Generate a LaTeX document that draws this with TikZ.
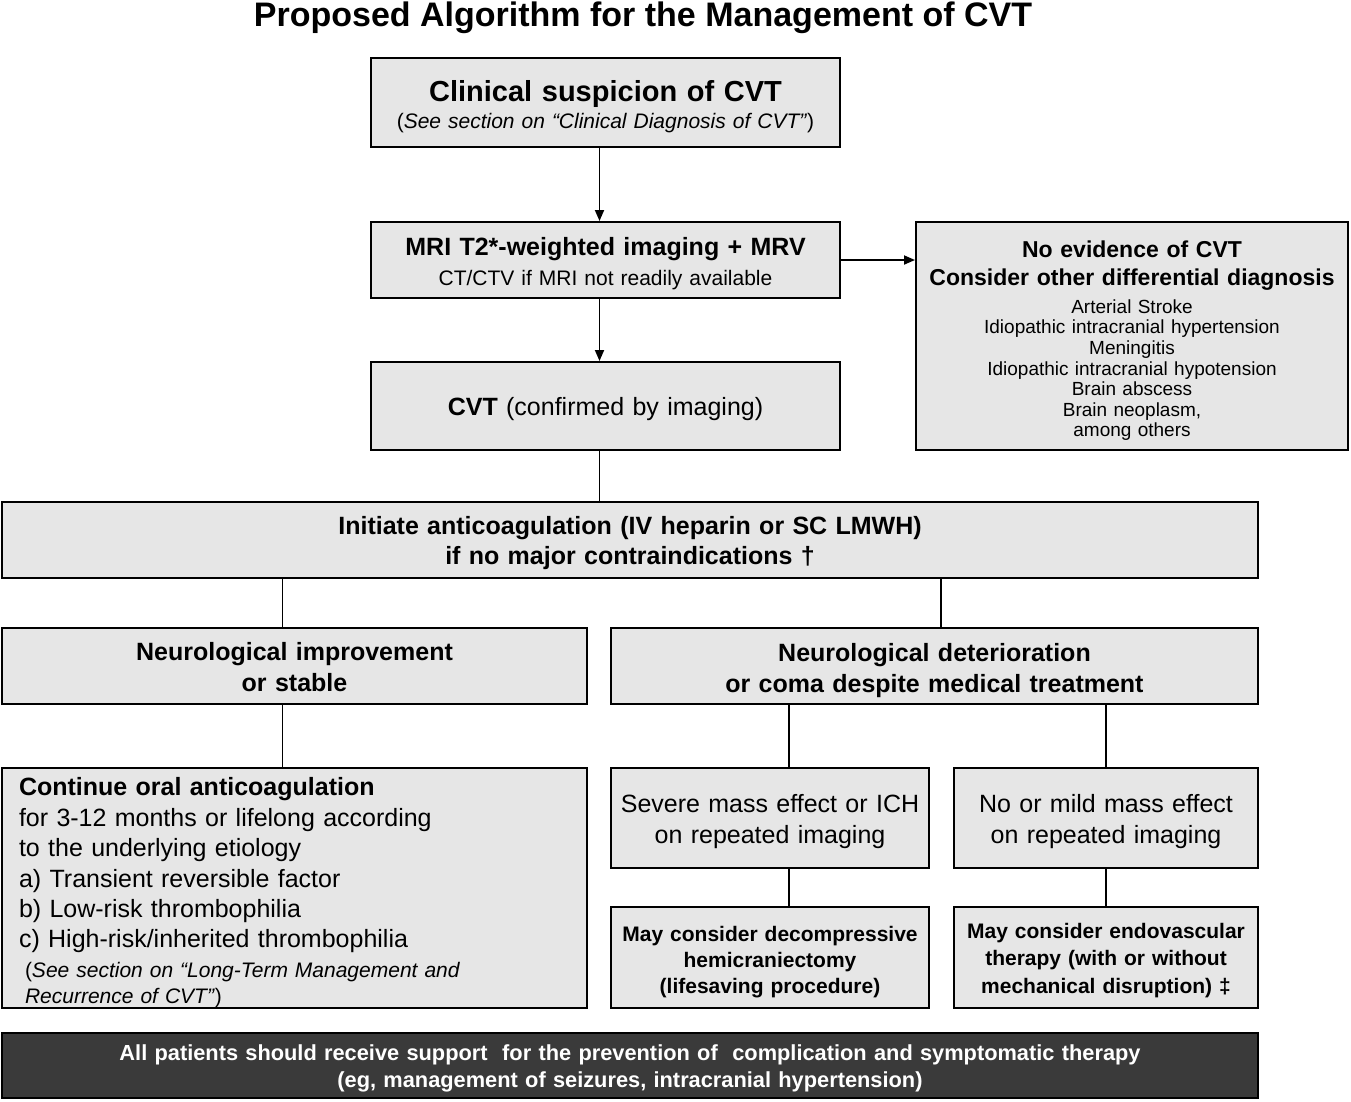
\documentclass[tikz,border=0pt]{standalone}
\usepackage{fontspec}
\setmainfont{Liberation Sans}
\usetikzlibrary{arrows.meta}
\definecolor{boxgray}{HTML}{E6E6E6}
\definecolor{footgray}{HTML}{3A3A3A}
% size + word space in the new size
\newcommand{\fsz}[2]{\fontsize{#1}{#2}\selectfont\spaceskip=.3333em\xspaceskip=.5em\relax}
% extra room above the first line (moves the text down by half of it)
\newcommand{\padtop}[1]{\raisebox{#1}{\vphantom{(}}}

\begin{document}
\begin{tikzpicture}[x=1pt,y=-1pt,
  box/.style={draw=black,line width=2pt,fill=boxgray,inner sep=0pt,align=center},
  link/.style={line width=1.8pt},
  arr/.style={line width=1.8pt,-{Triangle[length=11pt,width=9pt]}}]
\useasboundingbox (0,0) rectangle (1351,1101);
\node[font=\bfseries\fontsize{34}{40}\selectfont] (title) at (643,18) {Proposed Algorithm for the Management of CVT};
% diagnosis column
\node[box,minimum width=469,minimum height=89,text width=460] (clin) at (605.5,102.5)
  {{\bfseries\fsz{29}{30}\padtop{9pt}Clinical suspicion of CVT\par}
   {\fsz{21}{27}(\textit{See section on “Clinical Diagnosis of CVT”})\par}};
\node[box,minimum width=469,minimum height=76,text width=460] (mri) at (605.5,260)
  {{\bfseries\fsz{25}{31}\padtop{7pt}MRI T2*-weighted imaging + MRV\par}
   {\fsz{21}{30}CT/CTV if MRI not readily available\par}};
\node[box,minimum width=469,minimum height=88,text width=460,font=\fsz{25}{31}] (cvt) at (605.5,406)
  {\padtop{6pt}\textbf{CVT} (confirmed by imaging)};
\node[box,minimum width=432,minimum height=228,text width=425] (noev) at (1132,336)
  {{\bfseries\fsz{23}{28}\padtop{10pt}No evidence of CVT\\ Consider other differential diagnosis\par}
   \vspace{7pt}
   {\fsz{19}{20.6}Arterial Stroke\\ Idiopathic intracranial hypertension\\ Meningitis\\
    Idiopathic intracranial hypotension\\ Brain abscess\\ Brain neoplasm,\\ among others\par}};
% treatment
\node[box,minimum width=1256,minimum height=76,text width=1200,font=\bfseries\fsz{25}{30}] (init) at (630,540)
  {\padtop{7pt}Initiate anticoagulation (IV heparin or SC LMWH)\\ if no major contraindications †};
\node[box,minimum width=585,minimum height=76,text width=570,font=\bfseries\fsz{25}{31}] (impr) at (294.5,666)
  {\padtop{3pt}Neurological improvement\\ or stable};
\node[box,minimum width=647,minimum height=76,text width=630,font=\bfseries\fsz{25}{31}] (deter) at (934.5,666)
  {\padtop{10pt}Neurological deterioration\\ or coma despite medical treatment};
\node[box,minimum width=585,minimum height=240,text width=551,align=left] (cont) at (294.5,888)
  {{\fsz{25}{30.4}\padtop{10pt}\textbf{Continue oral anticoagulation}\\ for 3-12 months or lifelong according\\
    to the underlying etiology\\ a) Transient reversible factor\\ b) Low-risk thrombophilia\\
    c) High-risk/inherited thrombophilia\par}
   \vspace{4pt}
   {\fsz{21}{26}\hspace*{6pt}(\textit{See section on “Long-Term Management and}\\
    \hspace*{6pt}\textit{Recurrence of CVT”})\par}};
\node[box,minimum width=318,minimum height=100,text width=310,font=\fsz{25}{31}] (sev) at (770,818)
  {\padtop{8pt}Severe mass effect or ICH\\ on repeated imaging};
\node[box,minimum width=304,minimum height=100,text width=296,font=\fsz{25}{31}] (mild) at (1106,818)
  {\padtop{8pt}No or mild mass effect\\ on repeated imaging};
\node[box,minimum width=318,minimum height=101,text width=310,font=\bfseries\fsz{21}{26}] (decomp) at (770,957.5)
  {\padtop{10pt}May consider decompressive\\ hemicraniectomy\\ (lifesaving procedure)};
\node[box,minimum width=304,minimum height=101,text width=296,font=\bfseries\fsz{21}{27.5}] (endo) at (1106,957.5)
  {\padtop{6pt}May consider endovascular\\ therapy (with or without\\ mechanical disruption) ‡};
\node[box,fill=footgray,text=white,minimum width=1256,minimum height=65,text width=1220,font=\bfseries\fsz{21.8}{27}] (support) at (630,1065.5)
  {\padtop{6pt}All patients should receive support~ for the prevention of~ complication and symptomatic therapy\\
   (eg, management of seizures, intracranial hypertension)};
% connectors
\draw[arr] ([xshift=-6]clin.south) -- ([xshift=-6]mri.north);
\draw[arr] ([xshift=-6]mri.south) -- ([xshift=-6]cvt.north);
\draw[arr] (mri.east) -- (mri.east -| noev.west);
\draw[link] ([xshift=-6]cvt.south) -- ([xshift=-6]cvt.south |- init.north);
\draw[link] ([xshift=-12]impr.north |- init.south) -- ([xshift=-12]impr.north);
\draw[link] ([xshift=6.5]deter.north |- init.south) -- ([xshift=6.5]deter.north);
\draw[link] ([xshift=-12]impr.south) -- ([xshift=-12]cont.north);
\draw[link] ([xshift=19]sev.north |- deter.south) -- ([xshift=19]sev.north);
\draw[link] (mild.north |- deter.south) -- (mild.north);
\draw[link] ([xshift=19]sev.south) -- ([xshift=19]decomp.north);
\draw[link] (mild.south) -- (endo.north);
\end{tikzpicture}
\end{document}
